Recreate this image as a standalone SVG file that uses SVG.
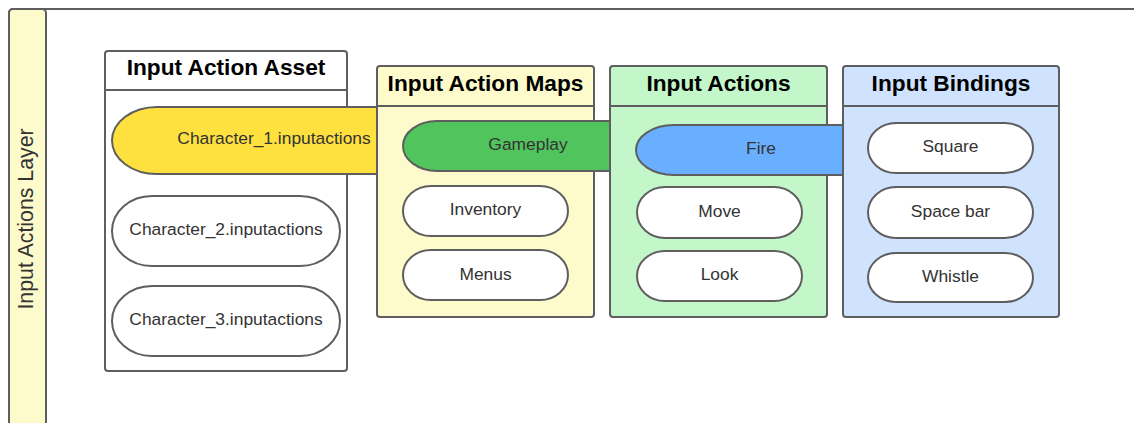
<svg xmlns="http://www.w3.org/2000/svg" width="1134" height="423" viewBox="0 0 1134 423">
  <style>
    .frame { fill: #ffffff; stroke: #5e5e5e; stroke-width: 2; }
    .box { stroke: #5e5e5e; stroke-width: 2; }
    .pill { stroke: #5e5e5e; stroke-width: 2; }
    .white { fill: #ffffff; }
    .title { font-family: "Liberation Sans", Arial, sans-serif; font-weight: bold; font-size: 22.7px; fill: #000000; text-anchor: middle; }
    .label { font-family: "Liberation Sans", Arial, sans-serif; font-size: 17.4px; fill: #333333; text-anchor: middle; }
    .lane { font-family: "Liberation Sans", Arial, sans-serif; font-size: 21.3px; fill: #333333; text-anchor: middle; }
  </style>

  <!-- swimlane frame -->
  <g id="layer">
    <rect class="frame" x="9" y="9" width="1140" height="430" rx="4"/>
    <rect x="9" y="9" width="37" height="430" rx="4" fill="#fdfbcc" stroke="#5e5e5e" stroke-width="2"/>
    <text class="lane" transform="translate(33 219) rotate(-90)">Input Actions Layer</text>
  </g>

  <!-- asset container -->
  <g id="asset">
    <rect class="box white" x="105" y="51" width="242" height="320" rx="3"/>
    <line x1="105" y1="90" x2="347" y2="90" stroke="#5e5e5e" stroke-width="2"/>
    <text class="title" x="226" y="75">Input Action Asset</text>
  </g>
  <g id="character1">
    <rect class="pill" x="112" y="107" width="324" height="67" rx="45" ry="33.5" fill="#fee13f"/>
    <text class="label" x="274" y="144">Character_1.inputactions</text>
  </g>
  <g id="character2">
    <rect class="pill white" x="112" y="196" width="228" height="70" rx="40" ry="35"/>
    <text class="label" x="226" y="235">Character_2.inputactions</text>
  </g>
  <g id="character3">
    <rect class="pill white" x="112" y="286" width="228" height="70" rx="40" ry="35"/>
    <text class="label" x="226" y="325">Character_3.inputactions</text>
  </g>

  <!-- action maps container -->
  <g id="maps">
    <rect class="box" x="377" y="66" width="217" height="251" rx="3" fill="#fdfbcb"/>
    <line x1="377" y1="106" x2="594" y2="106" stroke="#5e5e5e" stroke-width="2"/>
    <text class="title" x="485.5" y="91">Input Action Maps</text>
  </g>
  <g id="gameplay">
    <rect class="pill" x="403" y="121" width="250" height="50" rx="34" ry="25" fill="#52c45e"/>
    <text class="label" x="528" y="150">Gameplay</text>
  </g>
  <g id="inventory">
    <rect class="pill white" x="403" y="186" width="165" height="50" rx="28" ry="25"/>
    <text class="label" x="485.5" y="215">Inventory</text>
  </g>
  <g id="menus">
    <rect class="pill white" x="403" y="250" width="165" height="50" rx="28" ry="25"/>
    <text class="label" x="485.5" y="280">Menus</text>
  </g>

  <!-- actions container -->
  <g id="actions">
    <rect class="box" x="610" y="66" width="217" height="251" rx="3" fill="#c3f6c8"/>
    <line x1="610" y1="106" x2="827" y2="106" stroke="#5e5e5e" stroke-width="2"/>
    <text class="title" x="718.5" y="91">Input Actions</text>
  </g>
  <g id="fire">
    <rect class="pill" x="636" y="125" width="250" height="50" rx="38" ry="25" fill="#6aafff"/>
    <text class="label" x="761" y="154">Fire</text>
  </g>
  <g id="move">
    <rect class="pill white" x="637" y="187" width="165" height="51" rx="28" ry="25.5"/>
    <text class="label" x="719.5" y="217">Move</text>
  </g>
  <g id="look">
    <rect class="pill white" x="637" y="251" width="165" height="50" rx="28" ry="25"/>
    <text class="label" x="719.5" y="280">Look</text>
  </g>

  <!-- bindings container -->
  <g id="bindings">
    <rect class="box" x="843" y="66" width="216" height="251" rx="3" fill="#cfe3ff"/>
    <line x1="843" y1="106" x2="1059" y2="106" stroke="#5e5e5e" stroke-width="2"/>
    <text class="title" x="951" y="91">Input Bindings</text>
  </g>
  <g id="square">
    <rect class="pill white" x="868" y="123" width="165" height="50" rx="28" ry="25"/>
    <text class="label" x="950.5" y="152">Square</text>
  </g>
  <g id="spacebar">
    <rect class="pill white" x="868" y="187" width="165" height="51" rx="28" ry="25.5"/>
    <text class="label" x="950.5" y="217">Space bar</text>
  </g>
  <g id="whistle">
    <rect class="pill white" x="868" y="253" width="165" height="49" rx="28" ry="24.5"/>
    <text class="label" x="950.5" y="282">Whistle</text>
  </g>
</svg>
